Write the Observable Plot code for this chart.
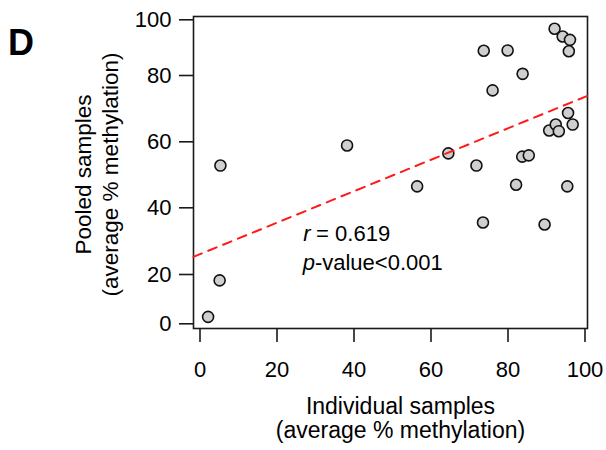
<!DOCTYPE html>
<html>
<head>
<meta charset="utf-8">
<script src="https://cdn.jsdelivr.net/npm/d3@7"></script>
<script src="https://cdn.jsdelivr.net/npm/@observablehq/plot@0.6"></script>
<style>
  html, body { margin: 0; padding: 0; background: #fff; }
  svg { display: block; }
</style>
</head>
<body>
<div id="chart"></div>
<script>
// ---- data ----
const individual = [92.1, 94.2, 96.1, 95.8, 73.7, 79.9, 83.8, 76.0, 95.6, 96.8, 90.7, 92.4, 93.2,
                    38.2, 5.3, 64.5, 71.8, 83.7, 85.4, 56.4, 82.1, 95.4, 73.5, 89.5, 5.1, 2.1];
const pooled     = [96.8, 94.0, 92.8, 88.7, 88.9, 89.0, 80.6, 75.5, 68.7, 65.2, 63.4, 65.2, 63.2,
                    58.9, 52.8, 56.5, 52.8, 55.5, 55.9, 46.5, 47.0, 46.5, 35.6, 35.0, 17.6, 2.8];
const fitX = [-1.7, 100.7];
const fitY = [25.3, 73.9];
const xTicks = [0, 20, 40, 60, 80, 100];
const yTicks = [0, 20, 40, 60, 80, 100];
const panelLabel = "D";
const xTitle = "Individual samples\n(average % methylation)";
const yTitle = "Pooled samples\n(average % methylation)";
const rSymbol = "r", rText = " = 0.619";
const pSymbol = "p", pText = "-value<0.001";

const points = individual.map((x, i) => ({x, y: pooled[i]}));
const fit = fitX.map((x, i) => ({x, y: fitY[i]}));

const FONT = "'Liberation Sans', Arial, Helvetica, sans-serif";
const ink = "#1a1a1a";

const chart = Plot.plot({
  width: 606,
  height: 450,
  marginLeft: 193,
  marginRight: 19,
  marginTop: 16,
  marginBottom: 122,
  style: {fontFamily: FONT, fontSize: "22px", color: "#000", background: "#fff"},
  x: {type: "linear", domain: [0, 100], range: [199.5, 584.5]},
  y: {type: "linear", domain: yTicks, range: [323.3, 274, 207.3, 141.3, 75, 19.3]},
  marks: [
    Plot.frame({stroke: ink, strokeWidth: 1.6}),
    Plot.axisX({ticks: xTicks, tickSize: 14, tickPadding: 18.5, strokeWidth: 1.6, stroke: ink, label: null, tickFormat: d => String(d)}),
    Plot.axisY({ticks: yTicks, tickSize: 14, tickPadding: 8, strokeWidth: 1.6, stroke: ink, label: null, tickFormat: d => String(d)}),
    Plot.dot(points, {x: "x", y: "y", r: 5.5, fill: "#cfcfcf", stroke: "#111", strokeWidth: 1.6}),
    Plot.line(fit, {x: "x", y: "y", stroke: "#ff1a1a", strokeWidth: 2, strokeDasharray: "9,7"}),
    // statistics annotation
    Plot.text([rSymbol], {frameAnchor: "top-left", dx: 109.7, dy: 209.2, textAnchor: "start", lineAnchor: "top", fontStyle: "italic", fontSize: 22, fill: "#000"}),
    Plot.text([rText], {frameAnchor: "top-left", dx: 116.5, dy: 209.2, textAnchor: "start", lineAnchor: "top", fontSize: 22, fill: "#000"}),
    Plot.text([pSymbol], {frameAnchor: "top-left", dx: 109.2, dy: 238.2, textAnchor: "start", lineAnchor: "top", fontStyle: "italic", fontSize: 22, fill: "#000"}),
    Plot.text([pText], {frameAnchor: "top-left", dx: 121.4, dy: 238.2, textAnchor: "start", lineAnchor: "top", fontSize: 22, fill: "#000"}),
    // axis titles
    Plot.text([xTitle], {frameAnchor: "bottom", dx: 10, dy: 68, textAnchor: "middle", lineAnchor: "top", lineHeight: 1.06, fontSize: 23, fill: "#000"}),
    Plot.text([yTitle], {frameAnchor: "left", dx: -121.3, dy: 2, rotate: -90, textAnchor: "middle", lineAnchor: "top", lineHeight: 1.2, fontSize: 22.5, fill: "#000"}),
    // panel label
    Plot.text([panelLabel], {frameAnchor: "top-left", dx: -185.5, dy: 13, textAnchor: "start", lineAnchor: "top", fontWeight: "bold", fontSize: 36, fill: "#000"})
  ]
});
document.getElementById("chart").appendChild(chart);
</script>
</body>
</html>
